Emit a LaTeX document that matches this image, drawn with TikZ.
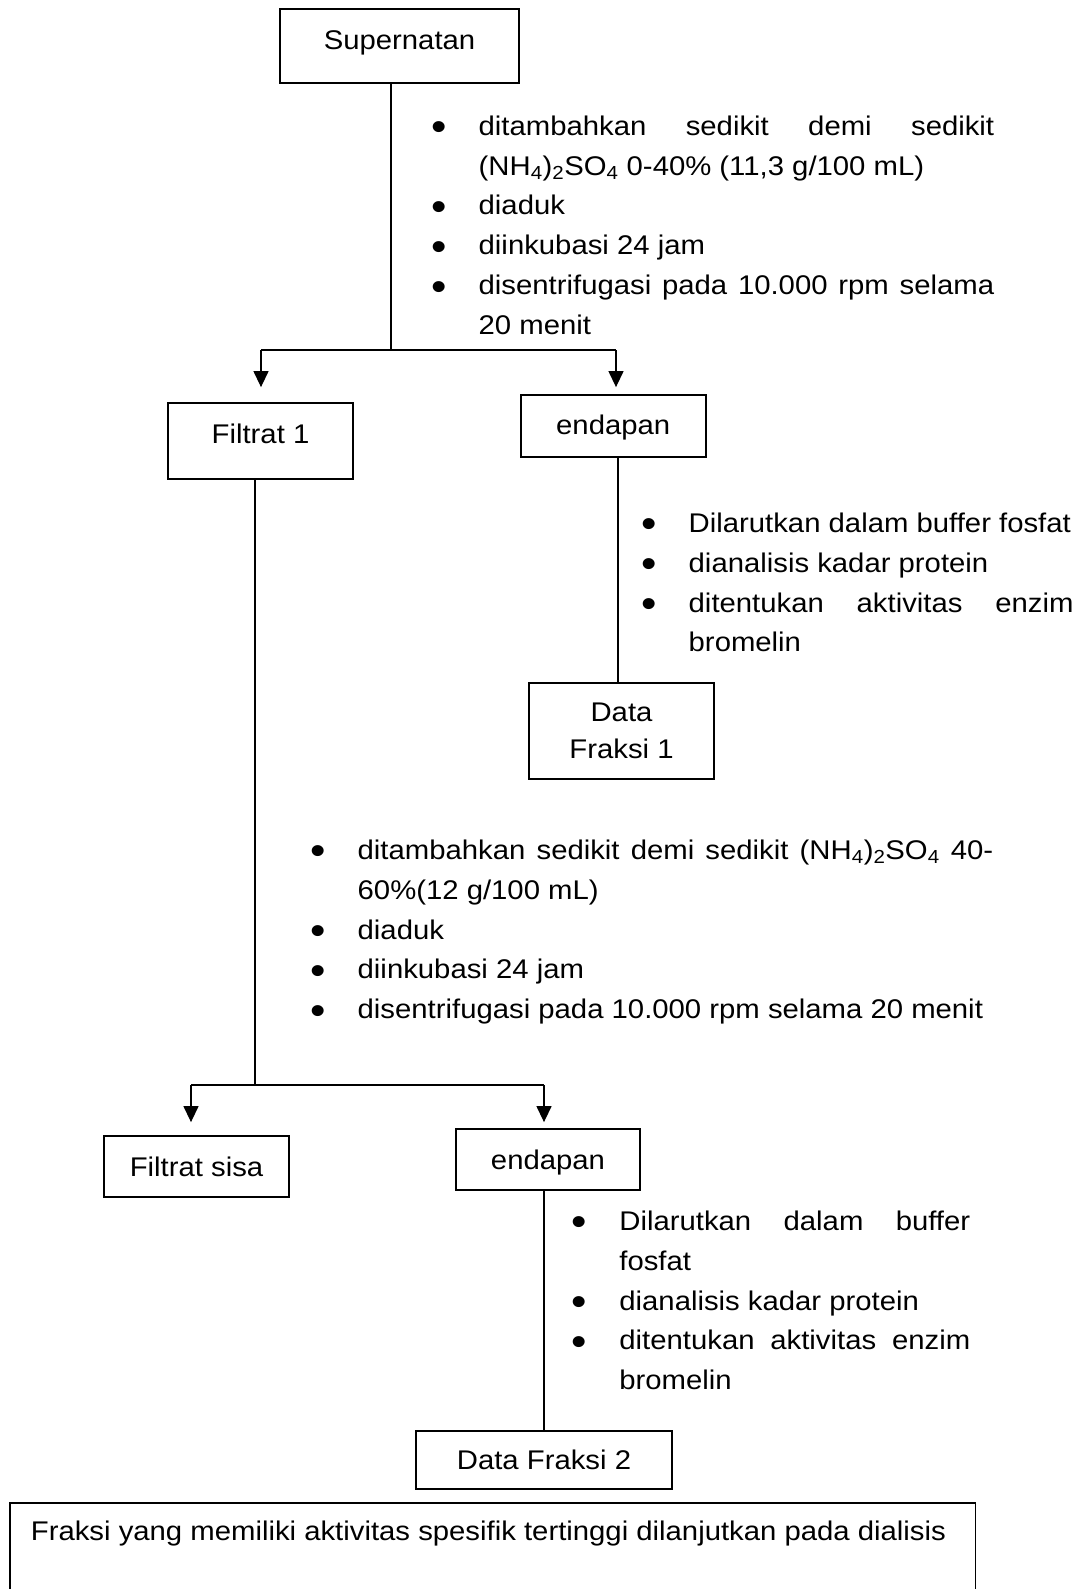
\documentclass[tikz,border=0pt]{standalone}
\usepackage{fontspec}
\setmainfont{Liberation Sans}[FakeStretch=1.085]
\usetikzlibrary{arrows.meta}

% no hyphenation, and loose lines are acceptable in the justified lists
\hyphenpenalty=10000
\exhyphenpenalty=10000
\tolerance=10000
\hbadness=10000

% enlarged bullet sitting on the x-height middle
\newcommand{\bul}{\hspace*{3.5pt}\raisebox{-5.6pt}{\scalebox{1.5}{\textbullet}}}
% invisible strut fixing the height of a list's first line
\newcommand{\topstrut}{\vrule width 0pt height 24pt depth 0pt\relax}
% one bulleted item: #1 = hanging indent, #2 = text
\newcommand{\bitem}[2]{\hangindent=#1\hangafter=1\noindent\makebox[#1][l]{\bul}#2\par}

\tikzset{
  box/.style={draw, line width=1.8pt, inner sep=0pt, align=center,
    font=\fontsize{27}{37}\selectfont},
  txt/.style={inner sep=0pt, font=\fontsize{27}{37}\selectfont},
  blist/.style={anchor=north west, inner sep=0pt, align=justify,
    font=\fontsize{27}{39.9}\selectfont},
  link/.style={line width=1.3pt},
  arr/.style={line width=1.3pt, -{Triangle[width=15pt,length=16pt]}}
}

\begin{document}
\begin{tikzpicture}[x=1pt, y=-1pt]
\useasboundingbox (0,0) rectangle (1081,1589);
\clip (0,0) rectangle (1081,1589);

% ---- first precipitation ----
\node[box, minimum width=239.5pt, minimum height=73.4pt] (sup) at (399.5,46) {};
\node[txt] (suptxt) at (399.5,43) {Supernatan};

\node[blist, text width=566.7pt] (s1) at (427.3,111) {%
\bitem{51.2pt}{\topstrut ditambahkan sedikit demi sedikit\linebreak (NH\textsubscript{4})\textsubscript{2}SO\textsubscript{4} 0-40\% (11,3 g/100 mL)}
\bitem{51.2pt}{diaduk}
\bitem{51.2pt}{diinkubasi 24 jam}
\bitem{51.2pt}{disentrifugasi pada 10.000 rpm selama\linebreak 20 menit}};

\node[box, minimum width=185pt, minimum height=76pt] (f1) at (260.5,441) {};
\node[txt] (f1txt) at (260.5,433.6) {Filtrat 1};
\node[box, minimum width=185pt, minimum height=62pt] (e1) at (613.2,426) {};
\node[txt] (e1txt) at (613.2,428) {endapan};

\coordinate (j1) at (391,350);
\coordinate (b1L) at (261,350);
\coordinate (b1R) at (616,350);
\draw[link] (sup.south -| j1) -- (j1);
\draw[link] (b1L) -- (b1R);
\draw[arr, shorten >=15pt] (b1L) -- (b1L |- f1.north);
\draw[arr, shorten >=7pt] (b1R) -- (b1R |- e1.north);

% ---- fraction 1 ----
\node[blist, text width=436pt] (s2) at (637.3,508) {%
\bitem{51.2pt}{\topstrut Dilarutkan dalam buffer fosfat}
\bitem{51.2pt}{dianalisis kadar protein}
\bitem{51.2pt}{ditentukan aktivitas enzim\linebreak bromelin}};

\node[box, minimum width=185pt, minimum height=96pt] (d1) at (621.5,731) {Data\\Fraksi 1};
\coordinate (l1) at (618,0);
\draw[link] (e1.south -| l1) -- (d1.north -| l1);

% ---- second precipitation ----
\node[blist, text width=686.7pt] (s3) at (306.3,835) {%
\bitem{51.2pt}{\topstrut ditambahkan sedikit demi sedikit (NH\textsubscript{4})\textsubscript{2}SO\textsubscript{4} 40-\linebreak 60\%(12 g/100 mL)}
\bitem{51.2pt}{diaduk}
\bitem{51.2pt}{diinkubasi 24 jam}
\bitem{51.2pt}{disentrifugasi pada 10.000 rpm selama 20 menit}};

\node[box, minimum width=185pt, minimum height=61pt] (fs) at (196.5,1166.5) {Filtrat sisa};
\node[box, minimum width=184pt, minimum height=61pt] (e2) at (548,1159.5) {};
\node[txt] (e2txt) at (548,1162.5) {endapan};

\coordinate (j2) at (255,1085);
\coordinate (b2L) at (191,1085);
\coordinate (b2R) at (544,1085);
\draw[link] (f1.south -| j2) -- (j2);
\draw[link] (b2L) -- (b2R);
\draw[arr, shorten >=13pt] (b2L) -- (b2L |- fs.north);
\draw[arr, shorten >=6pt] (b2R) -- (b2R |- e2.north);

% ---- fraction 2 ----
\node[blist, text width=402pt] (s4) at (568,1206) {%
\bitem{51.2pt}{\topstrut Dilarutkan dalam buffer\linebreak fosfat}
\bitem{51.2pt}{dianalisis kadar protein}
\bitem{51.2pt}{ditentukan aktivitas enzim\linebreak bromelin}};

\node[box, minimum width=256pt, minimum height=58pt] (d2) at (544,1460) {Data Fraksi 2};
\draw[link] (e2.south -| d2) -- (d2.north);

% ---- conclusion ----
\node[box, anchor=north, minimum width=965.5pt, minimum height=200pt] (fin) at (492.75,1502) {};
\node[txt, anchor=base west] (fintxt) at (30.7,1540) {Fraksi yang memiliki aktivitas spesifik tertinggi dilanjutkan pada dialisis};
\end{tikzpicture}
\end{document}
